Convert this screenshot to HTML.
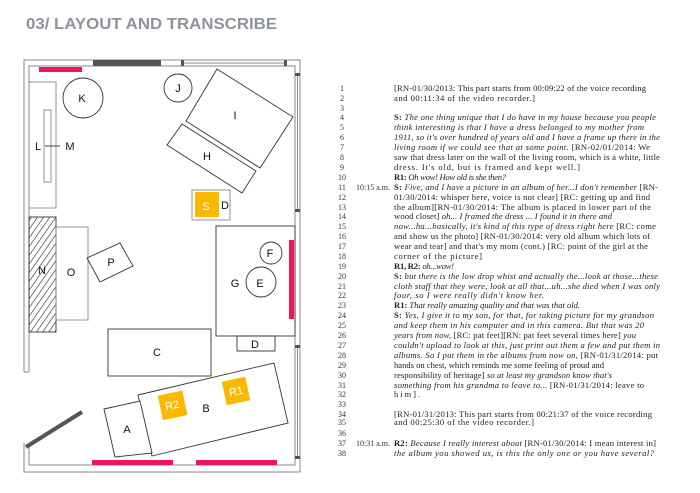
<!DOCTYPE html>
<html><head><meta charset="utf-8"><style>
html,body{margin:0;padding:0;background:#fff;width:700px;height:493px;overflow:hidden}
svg{display:block}
.t{font-family:"Liberation Serif",serif;font-size:8.6px;fill:#222}
.n{font-family:"Liberation Serif",serif;font-size:8px;fill:#333}
.lb{font-family:"Liberation Sans",sans-serif;font-size:11px;fill:#111}
</style></head><body>
<svg width="700" height="493" viewBox="0 0 700 493" xmlns="http://www.w3.org/2000/svg">
<text x="26" y="29" font-family="Liberation Sans,sans-serif" font-weight="bold" font-size="16" fill="#8e939b" textLength="251" lengthAdjust="spacingAndGlyphs">03/ LAYOUT AND TRANSCRIBE</text>
<g fill="none" stroke="#888" stroke-width="1">
<path d="M24 372 V60 H300 V472 H24 V443"/>
<path d="M29 372 V66 H295 V465 H29 V447"/>
<line x1="24" y1="372" x2="29" y2="372"/>
<line x1="184" y1="63" x2="285" y2="63"/>
<line x1="297.5" y1="75" x2="297.5" y2="210"/>
<line x1="297.5" y1="346" x2="297.5" y2="458"/>
</g>
<rect x="93" y="60" width="68" height="6" fill="#555"/>
<rect x="181" y="60" width="3" height="6" fill="#555"/>
<rect x="284" y="60" width="3" height="6" fill="#555"/>
<rect x="295" y="73" width="5" height="3" fill="#555"/>
<rect x="295" y="209" width="5" height="3" fill="#555"/>
<rect x="295" y="345" width="5" height="3" fill="#555"/>
<rect x="295" y="456" width="5" height="3" fill="#555"/>
<rect x="39" y="67" width="43" height="5" fill="#f0145a"/>
<rect x="92" y="460" width="81" height="5" fill="#f0145a"/>
<rect x="196" y="460" width="81" height="5" fill="#f0145a"/>
<rect x="289" y="240" width="5" height="79" fill="#f0145a"/>
<line x1="26" y1="447" x2="82" y2="412" stroke="#555" stroke-width="4"/>
<defs><pattern id="h" width="5" height="5" patternUnits="userSpaceOnUse" patternTransform="rotate(35)"><line x1="0" y1="0" x2="0" y2="5" stroke="#222" stroke-width="1.2"/></pattern></defs>
<g fill="none" stroke="#333" stroke-width="0.9">
<circle cx="83" cy="98" r="20"/>
<circle cx="178" cy="88" r="14"/>
<polygon points="217,69 293,117 260,168 186,121"/>
<polygon points="182,124 256,171 242,193 167,145"/>
<rect x="29" y="82" width="27" height="126" stroke="#888"/>
<rect x="44" y="110" width="7" height="72" stroke="#888"/>
<line x1="45" y1="146" x2="60" y2="146"/>
<rect x="192" y="190" width="38" height="30" stroke="#888"/>
<rect x="29" y="217" width="27" height="115" fill="url(#h)"/>
<rect x="56" y="227" width="32" height="93" stroke="#888"/>
<polygon points="87,258 120,243 133,266 100,282"/>
<rect x="216" y="226" width="79" height="110"/>
<circle cx="271" cy="253" r="11"/>
<circle cx="261" cy="282" r="15"/>
<rect x="237" y="336" width="38" height="15"/>
<rect x="108" y="329" width="103" height="47"/>
<polygon points="138,395 274,363 288,423 152,456" fill="#fff"/>
<polygon points="104,409 140,401 152,453 115,457" fill="#fff"/>
</g>
<rect x="195" y="192" width="24" height="25" fill="#fbb800"/>
<rect x="160" y="393" width="25" height="25" fill="#fbb800" transform="rotate(-12 172 405)"/>
<rect x="224" y="379" width="24" height="24" fill="#fbb800" transform="rotate(-12 236 391)"/>
<text class="lb" x="82" y="102" text-anchor="middle">K</text>
<text class="lb" x="178" y="92" text-anchor="middle">J</text>
<text class="lb" x="235" y="119" text-anchor="middle">I</text>
<text class="lb" x="207" y="160" text-anchor="middle">H</text>
<text class="lb" x="38" y="150" text-anchor="middle">L</text>
<text class="lb" x="70" y="150" text-anchor="middle">M</text>
<text class="lb" x="206" y="210" text-anchor="middle" style="fill:#fff">S</text>
<text class="lb" x="225" y="209" text-anchor="middle">D</text>
<text class="lb" x="42" y="274" text-anchor="middle">N</text>
<text class="lb" x="71" y="276" text-anchor="middle">O</text>
<text class="lb" x="111" y="266" text-anchor="middle">P</text>
<text class="lb" x="235" y="287" text-anchor="middle">G</text>
<text class="lb" x="260" y="287" text-anchor="middle">E</text>
<text class="lb" x="270" y="257" text-anchor="middle">F</text>
<text class="lb" x="255" y="348" text-anchor="middle">D</text>
<text class="lb" x="157" y="356" text-anchor="middle">C</text>
<text class="lb" x="206" y="412" text-anchor="middle">B</text>
<text class="lb" x="127" y="433" text-anchor="middle">A</text>
<text class="lb" x="172" y="409" text-anchor="middle" style="fill:#fff" transform="rotate(-12 172 405)">R2</text>
<text class="lb" x="236" y="395" text-anchor="middle" style="fill:#fff" transform="rotate(-12 236 391)">R1</text>
<g class="n" text-anchor="middle">
<text x="342" y="91">1</text><text x="342" y="101">2</text><text x="342" y="111">3</text><text x="342" y="120">4</text><text x="342" y="130">5</text><text x="342" y="140">6</text><text x="342" y="150">7</text><text x="342" y="160">8</text><text x="342" y="170">9</text><text x="342" y="180">10</text><text x="342" y="190">11</text><text x="342" y="200">12</text><text x="342" y="210">13</text><text x="342" y="219">14</text><text x="342" y="229">15</text><text x="342" y="239">16</text><text x="342" y="249">17</text><text x="342" y="259">18</text><text x="342" y="269">19</text><text x="342" y="279">20</text><text x="342" y="289">21</text><text x="342" y="298">22</text><text x="342" y="308">23</text><text x="342" y="318">24</text><text x="342" y="328">25</text><text x="342" y="338">26</text><text x="342" y="348">27</text><text x="342" y="358">28</text><text x="342" y="368">29</text><text x="342" y="378">30</text><text x="342" y="388">31</text><text x="342" y="397">32</text><text x="342" y="407">33</text><text x="342" y="417">34</text><text x="342" y="425">35</text><text x="342" y="436">36</text><text x="342" y="446">37</text><text x="342" y="456">38</text>
</g>
<text class="n" x="356" y="190">10:15 a.m.</text>
<text class="n" x="356" y="446">10:31 a.m.</text>
<g class="t">
<text x="394" y="91" textLength="252">[RN-01/30/2013: This part starts from 00:09:22 of the voice recording</text>
<text x="394" y="101" textLength="141">and 00:11:34 of the video recorder.]</text>
<text x="394" y="120" textLength="262"><tspan font-weight="bold">S: </tspan><tspan font-style="italic">The one thing unique that I do have in my house because you people</tspan></text>
<text x="394" y="130" textLength="250" font-style="italic">think interesting is that I have a dress belonged to my mother from</text>
<text x="394" y="140" textLength="266" font-style="italic">1911, so it's over hundred of years old and I have a frame up there in the</text>
<text x="394" y="150" textLength="256"><tspan font-style="italic">living room if we could see that at some point. </tspan>[RN-02/01/2014: We</text>
<text x="394" y="160" textLength="266">saw that dress later on the wall of the living room, which is a white, little</text>
<text x="394" y="170" textLength="186">dress. It's old, but is framed and kept well.]</text>
<text x="394" y="180" textLength="112"><tspan font-weight="bold">R1: </tspan><tspan font-style="italic">Oh wow! How old is she then?</tspan></text>
<text x="394" y="190" textLength="264"><tspan font-weight="bold">S: </tspan><tspan font-style="italic">Five, and I have a picture in an album of her...I don't remember </tspan>[RN-</text>
<text x="394" y="200" textLength="256">01/30/2014: whisper here, voice is not clear] [RC: getting up and find</text>
<text x="394" y="210" textLength="257">the album][RN-01/30/2014: The album is placed in lower part of the</text>
<text x="394" y="219" textLength="218">wood closet] <tspan font-style="italic">oh... I framed the dress ... I found it in there and</tspan></text>
<text x="394" y="229" textLength="262"><tspan font-style="italic">now...ha...basically, it's kind of this type of dress right here </tspan>[RC: come</text>
<text x="394" y="239" textLength="256">and show us the photo] [RN-01/30/2014: very old album which lots of</text>
<text x="394" y="249" textLength="254">wear and tear] and that's my mom (cont.) [RC: point of the girl at the</text>
<text x="394" y="259" textLength="88">corner of the picture]</text>
<text x="394" y="269" textLength="60"><tspan font-weight="bold">R1, R2: </tspan><tspan font-style="italic">oh...wow!</tspan></text>
<text x="394" y="279" textLength="264"><tspan font-weight="bold">S: </tspan><tspan font-style="italic">but there is the low drop whist and actually the...look at those...these</tspan></text>
<text x="394" y="289" textLength="266" font-style="italic">cloth staff that they were, look at all that...uh...she died when I was only</text>
<text x="394" y="298" textLength="150" font-style="italic">four, so I were really didn't know her.</text>
<text x="394" y="308" textLength="186"><tspan font-weight="bold">R1: </tspan><tspan font-style="italic">That really amazing quality and that was that old.</tspan></text>
<text x="394" y="318" textLength="260"><tspan font-weight="bold">S: </tspan><tspan font-style="italic">Yes, I give it to my son, for that, for taking picture for my grandson</tspan></text>
<text x="394" y="328" textLength="250" font-style="italic">and keep them in his computer and in this camera. But that was 20</text>
<text x="394" y="338" textLength="242"><tspan font-style="italic">years from now, </tspan>[RC: pat feet][RN: pat feet several times here] <tspan font-style="italic">you</tspan></text>
<text x="394" y="348" textLength="266" font-style="italic">couldn't upload to look at this, just print out them a few and put them in</text>
<text x="394" y="358" textLength="264"><tspan font-style="italic">albums. So I put them in the albums from now on, </tspan>[RN-01/31/2014: put</text>
<text x="394" y="368" textLength="210">hands on chest, which reminds me some feeling of proud and</text>
<text x="394" y="378" textLength="218">responsibility of heritage] <tspan font-style="italic">so at least my grandson know that's</tspan></text>
<text x="394" y="388" textLength="250"><tspan font-style="italic">something from his grandma to leave to... </tspan>[RN-01/31/2014: leave to</text>
<text x="394" y="397" textLength="26">him].</text>
<text x="394" y="417" textLength="258">[RN-01/31/2013: This part starts from 00:21:37 of the voice recording</text>
<text x="394" y="425" textLength="140">and 00:25:30 of the video recorder.]</text>
<text x="394" y="446" textLength="262"><tspan font-weight="bold">R2: </tspan><tspan font-style="italic">Because I really interest about </tspan>[RN-01/30/2014: I mean interest in]</text>
<text x="394" y="456" textLength="260" font-style="italic">the album you showed us, is this the only one or you have several?</text>
</g>
</svg>
</body></html>
